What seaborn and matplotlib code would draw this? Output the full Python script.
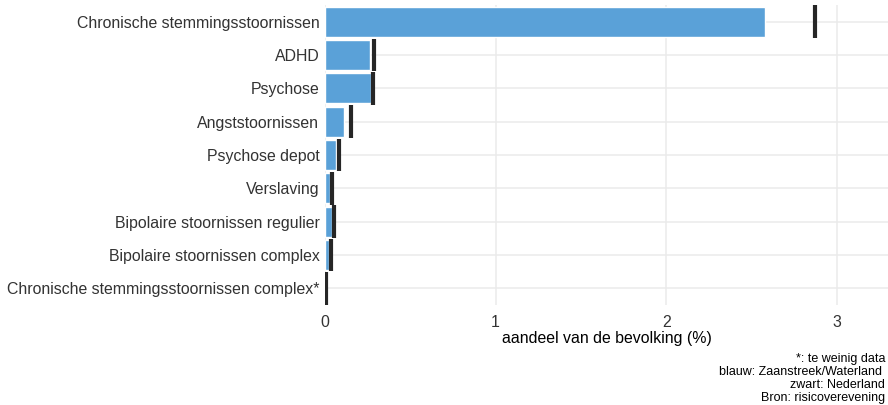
import matplotlib
matplotlib.use("Agg")
import matplotlib.pyplot as plt
import seaborn as sns
import numpy as np
import pandas as pd

categories = [
    "Chronische stemmingsstoornissen",
    "ADHD",
    "Psychose",
    "Angststoornissen",
    "Psychose depot",
    "Verslaving",
    "Bipolaire stoornissen regulier",
    "Bipolaire stoornissen complex",
    "Chronische stemmingsstoornissen complex*",
]
zaanstreek = [2.58, 0.265, 0.27, 0.11, 0.065, 0.03, 0.04, 0.025, 0.0]
nederland = [2.87, 0.29, 0.28, 0.15, 0.08, 0.04, 0.05, 0.035, 0.005]
x_ticks = [0, 1, 2, 3]
x_label = "aandeel van de bevolking (%)"
caption = "*: te weinig data\nblauw: Zaanstreek/Waterland \nzwart: Nederland\nBron: risicoverevening"

sns.set_theme(style="white")
plt.rcParams["font.family"] = ["Liberation Sans", "DejaVu Sans"]

df = pd.DataFrame({"categorie": categories, "zaanstreek": zaanstreek, "nederland": nederland})

fig = plt.figure(figsize=(8.88, 4.05), dpi=100)
ax = fig.add_axes([0.366, 0.247, 0.634, 0.741])

grid_c = "#EBEBEB"
ax.set_axisbelow(True)
sns.barplot(data=df, y="categorie", x="zaanstreek", orient="h", color="#5AA1D8",
            saturation=1, width=0.9, edgecolor="white", linewidth=1, ax=ax, zorder=2)

ypos = np.arange(len(categories))
ax.vlines(df["nederland"], ypos - 0.49, ypos + 0.49, color="#262626", linewidth=3, zorder=3)

ax.set_xlim(0, 3.3)
ax.set_ylim(len(categories) - 0.5, -0.5)
ax.set_xticks(x_ticks)
ax.set_xticklabels([str(t) for t in x_ticks])
ax.grid(True, axis="both", color=grid_c, linewidth=1.1, zorder=0)
for s in ax.spines.values():
    s.set_visible(False)
ax.tick_params(axis="both", length=0, labelsize=11.4, labelcolor="#333333", pad=4)
ax.tick_params(axis="x", pad=7)
ax.set_ylabel("")
ax.set_xlabel(x_label, fontsize=11.4, color="black", labelpad=1)

fig.text(0.997, 0.128, caption, ha="right", va="top", fontsize=9, color="black", linespacing=1.1)

fig.savefig("out.png", dpi=100, facecolor="white")
